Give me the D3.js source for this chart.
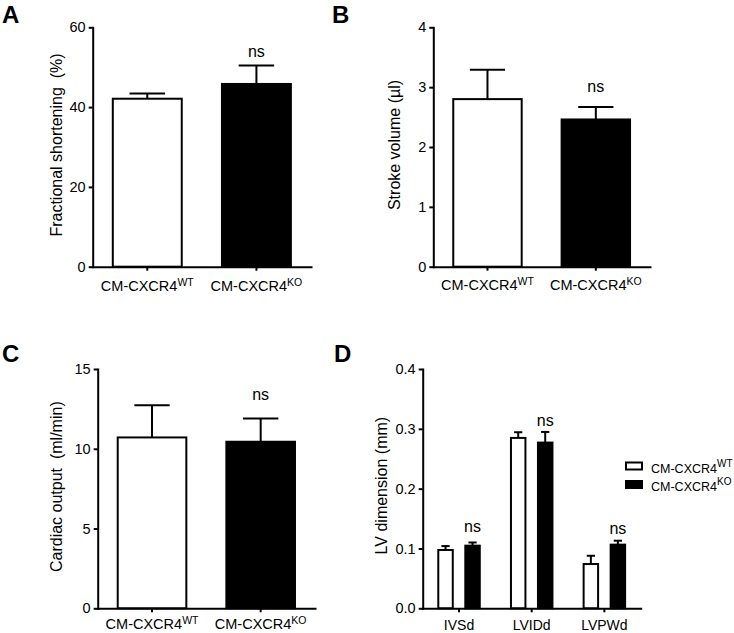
<!DOCTYPE html>
<html><head><meta charset="utf-8">
<script src="https://cdn.jsdelivr.net/npm/d3@7"></script>
<style>
body{margin:0;background:#fff}
text{font-family:"Liberation Sans",Arial,sans-serif;fill:#000}
</style>
</head><body>
<svg id="c" width="734" height="633"></svg>
<script>
// ---------- data ----------
const groupBase = "CM-CXCR4";
const groupSup = ["WT", "KO"];
const fsMean = [42.1, 45.8];      // Fractional shortening (%)
const fsSem  = [1.3, 4.6];
const fsNs   = 52.6;
const fsTicks = [0, 20, 40, 60];

const svMean = [2.80, 2.46];      // Stroke volume (µl)
const svSem  = [0.49, 0.21];
const svNs   = 2.92;
const svTicks = [0, 1, 2, 3, 4];

const coMean = [10.71, 10.44];    // Cardiac output (ml/min)
const coSem  = [2.01, 1.46];
const coNs   = 13.05;
const coTicks = [0, 5, 10, 15];

const lvCats = ["IVSd", "LVIDd", "LVPWd"];
const lvWtMean = [0.0975, 0.2848, 0.074];
const lvWtSem  = [0.0065, 0.0095, 0.0138];
const lvKoMean = [0.1047, 0.277, 0.1064];
const lvKoSem  = [0.0053, 0.0178, 0.0066];
const lvNs     = [0.128, 0.305, 0.125];
const lvTicks  = [0, 0.1, 0.2, 0.3, 0.4];

// ---------- helpers ----------
const svg = d3.select("#c");
const FONT = '"Liberation Sans",Arial,sans-serif';

function styleAxis(a, fs){
  a.attr("font-family", FONT).attr("font-size", fs || 14.5);
  a.select(".domain").attr("stroke", "#000").attr("stroke-width", 2).attr("stroke-linecap", "square");
  a.selectAll(".tick line").attr("stroke", "#000").attr("stroke-width", 2);
  a.selectAll(".tick text").attr("fill", "#000");
}

function letter(t, x, y){
  svg.append("text").attr("x", x).attr("y", y)
    .attr("font-family", '"Open Sans",sans-serif').attr("font-weight", 700)
    .attr("font-size", 24).text(t);
}

function yLabel(t, x, y){
  svg.append("text").attr("transform", `translate(${x},${y}) rotate(-90)`)
    .attr("text-anchor", "middle").attr("font-size", 16).style("white-space", "pre").text(t);
}

function errBar(g, cx, w, y, m, s){
  g.append("line").attr("x1", cx).attr("x2", cx).attr("y1", y(m)).attr("y2", y(m + s))
    .attr("stroke", "#000").attr("stroke-width", 2);
  g.append("line").attr("x1", cx - w / 2).attr("x2", cx + w / 2).attr("y1", y(m + s)).attr("y2", y(m + s))
    .attr("stroke", "#000").attr("stroke-width", 2);
}

function twoBar(o){
  const g = svg.append("g");
  const y = d3.scaleLinear().domain([0, o.ticks[o.ticks.length - 1]]).range([o.bottom, o.top]);
  const x = d3.scaleBand().domain([0, 1]).range([o.left, o.right]).paddingInner(0.35).paddingOuter(0.175);
  const bw = x.bandwidth();
  o.means.forEach((m, i) => {
    g.append("rect").attr("x", x(i) + 1).attr("y", y(m)).attr("width", bw - 2).attr("height", y(0) - y(m))
      .attr("fill", i === 0 ? "#fff" : "#000").attr("stroke", "#000").attr("stroke-width", 2);
  });
  o.means.forEach((m, i) => errBar(g, x(i) + bw / 2, bw / 2, y, m, o.sems[i]));
  const ay = g.append("g").attr("transform", `translate(${o.left},0)`)
    .call(d3.axisLeft(y).tickValues(o.ticks).tickSize(4).tickSizeOuter(0).tickPadding(3).tickFormat(d3.format("d")));
  styleAxis(ay);
  const ax = g.append("g").attr("transform", `translate(0,${o.bottom})`)
    .call(d3.axisBottom(x).tickSize(4).tickSizeOuter(0).tickFormat(""));
  styleAxis(ax);
  [0, 1].forEach(i => {
    const t = g.append("text").attr("x", x(i) + bw / 2).attr("y", o.labelY).attr("text-anchor", "middle").attr("font-size", 14.5);
    t.append("tspan").text(groupBase);
    t.append("tspan").attr("font-size", 10.5).attr("dy", -5).text(groupSup[i]);
  });
  g.append("text").attr("x", x(1) + bw / 2).attr("y", y(o.ns)).attr("text-anchor", "middle").attr("font-size", 16).text("ns");
  yLabel(o.label, o.labelX, (o.top + o.bottom) / 2 - 2);
}

// ---------- panels ----------
letter("A", 2, 23);
twoBar({left: 92.7, right: 311, top: 27.3, bottom: 266.7, ticks: fsTicks, means: fsMean, sems: fsSem, ns: fsNs,
  label: "Fractional shortening  (%)", labelX: 62, labelY: 290.5});

letter("B", 332, 23);
twoBar({left: 433.3, right: 650, top: 27.3, bottom: 266.7, ticks: svTicks, means: svMean, sems: svSem, ns: svNs,
  label: "Stroke volume (\u00b5l)", labelX: 400, labelY: 290});

letter("C", 2, 362);
twoBar({left: 97.7, right: 315, top: 369, bottom: 608.3, ticks: coTicks, means: coMean, sems: coSem, ns: coNs,
  label: "Cardiac output  (ml/min)", labelX: 62, labelY: 629});

letter("D", 334, 362);
(function(){
  const left = 422.7, right = 640.7, top = 369, bottom = 608.3;
  const g = svg.append("g");
  const y = d3.scaleLinear().domain([0, 0.4]).range([bottom, top]);
  const x0 = d3.scaleBand().domain(lvCats).range([left, right]).padding(0);
  const x1 = d3.scaleBand().domain([0, 1]).range([0, x0.bandwidth()]).paddingInner(0.39).paddingOuter(0.54);
  const bw = x1.bandwidth();
  const series = [[lvWtMean, lvWtSem, "#fff"], [lvKoMean, lvKoSem, "#000"]];
  series.forEach(([means, sems, fill], s) => {
    lvCats.forEach((c, i) => {
      const bx = x0(c) + x1(s);
      g.append("rect").attr("x", bx + 1).attr("y", y(means[i])).attr("width", bw - 2).attr("height", y(0) - y(means[i]))
        .attr("fill", fill).attr("stroke", "#000").attr("stroke-width", 2);
      errBar(g, bx + bw / 2, bw / 2, y, means[i], sems[i]);
    });
  });
  lvCats.forEach((c, i) => {
    g.append("text").attr("x", x0(c) + x1(1) + bw / 2).attr("y", y(lvNs[i])).attr("text-anchor", "middle")
      .attr("font-size", 16).text("ns");
  });
  const ay = g.append("g").attr("transform", `translate(${left},0)`)
    .call(d3.axisLeft(y).tickValues(lvTicks).tickSize(4).tickSizeOuter(0).tickPadding(3).tickFormat(d3.format(".1f")));
  styleAxis(ay);
  const ax = g.append("g").attr("transform", `translate(0,${bottom})`)
    .call(d3.axisBottom(x0).tickSize(4).tickSizeOuter(0).tickPadding(7.8));
  styleAxis(ax, 14);
  yLabel("LV dimension (mm)", 387, (top + bottom) / 2 - 3);
  const lg = svg.append("g").attr("font-size", 12.5);
  lg.append("rect").attr("x", 626).attr("y", 462.5).attr("width", 16).attr("height", 7)
    .attr("fill", "#fff").attr("stroke", "#000").attr("stroke-width", 2);
  lg.append("rect").attr("x", 625).attr("y", 480).attr("width", 18).attr("height", 9).attr("fill", "#000");
  [472.7, 490.7].forEach((yy, i) => {
    const t = lg.append("text").attr("x", 651).attr("y", yy);
    t.append("tspan").text(groupBase);
    t.append("tspan").attr("font-size", 10).attr("dy", -5.5).text(groupSup[i]);
  });
})();
</script>
</body></html>
